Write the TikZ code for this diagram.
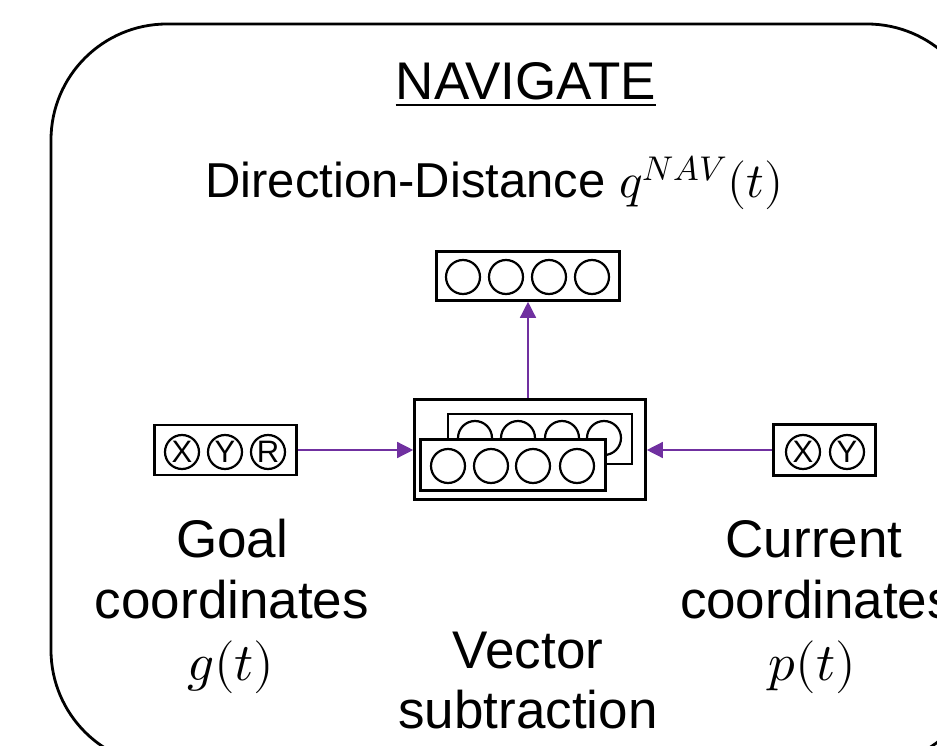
\documentclass[tikz,border=0pt]{standalone}
\usepackage{fontspec}
\usepackage{unicode-math}
\setmainfont{Liberation Sans}
\setmathfont{Latin Modern Math}
\usetikzlibrary{arrows.meta}
\definecolor{arrowpurple}{HTML}{7030A0}
\begin{document}
\begin{tikzpicture}[x=1pt,y=-1pt,
  box/.style={draw, line width=2.6pt, fill=white, inner sep=0pt},
  unit/.style={circle, draw, line width=2.2pt, fill=white, minimum size=34pt, inner sep=0pt, font=\fontsize{31}{31}\selectfont},
  conn/.style={draw=arrowpurple, line width=1.4pt, -{Triangle[length=16pt,width=16pt]}},
  lbl/.style={font=\fontsize{53}{63}\selectfont, inner sep=0pt, anchor=base}]
\useasboundingbox (0,0) rectangle (937,746);
\clip (0,0) rectangle (937,746);
% outer rounded frame
\draw[line width=2.8pt, rounded corners=116pt] (51,24) rectangle (983,766);

% title
\node[lbl, anchor=base] (title) at (526,100) {NAVIGATE};
\draw[line width=2.8pt] (title.base west) ++(0,5) coordinate (ul1) -- (title.base east |- ul1);

\node[lbl, anchor=base west, font=\fontsize{49}{58}\selectfont] (dd) at (205,198) {Direction-Distance $q^{NAV}(t)$};

% top output box
\node[box, minimum width=183pt, minimum height=49pt] (out) at (528,276) {};
\foreach \i/\x in {1/463,2/506,3/549,4/592}
  \node[unit] (o\i) at (\x,277) {};

% goal box
\node[box, minimum width=142pt, minimum height=50pt] (goal) at (225.5,450) {};
\node[unit] (gx) at (182,452) {X};
\node[unit] (gy) at (225,452) {Y};
\node[unit] (gr) at (268,452) {R};

% current box
\node[box, minimum width=102pt, minimum height=51pt] (cur) at (824.5,450) {};
\node[unit] (cx) at (803,452) {X};
\node[unit] (cy) at (847,452) {Y};

% vector subtraction block
\node[box, minimum width=231pt, minimum height=100pt] (vs) at (530,449.5) {};
\node[box, minimum width=184pt, minimum height=50pt] (back) at (540,439) {};
\foreach \i/\x in {1/475,2/518,3/562,4/604}
  \node[unit] (b\i) at (\x,438) {};
\node[box, minimum width=185pt, minimum height=51pt] (front) at (513,465) {};
\foreach \i/\x in {1/448,2/491,3/533,4/577}
  \node[unit] (f\i) at (\x,466) {};

% connectors
\draw[conn] (goal.east) -- (goal.east -| vs.west);
\draw[conn] (cur.west) -- (cur.west -| vs.east);
\draw[conn] (vs.north -| out.south) -- (out.south);

% labels
\node[lbl] (g1) at (232,557) {Goal};
\node[lbl] (g2) at (232,618) {coordinates};
\node[lbl] (g3) at (231,680) {$g(t)$};
\node[lbl] (v1) at (528,668) {Vector};
\node[lbl] (v2) at (528,728) {subtraction};
\node[lbl] (c1) at (814,557) {Current};
\node[lbl] (c2) at (817,618) {coordinates};
\node[lbl] (c3) at (812,680) {$p(t)$};
\end{tikzpicture}
\end{document}
